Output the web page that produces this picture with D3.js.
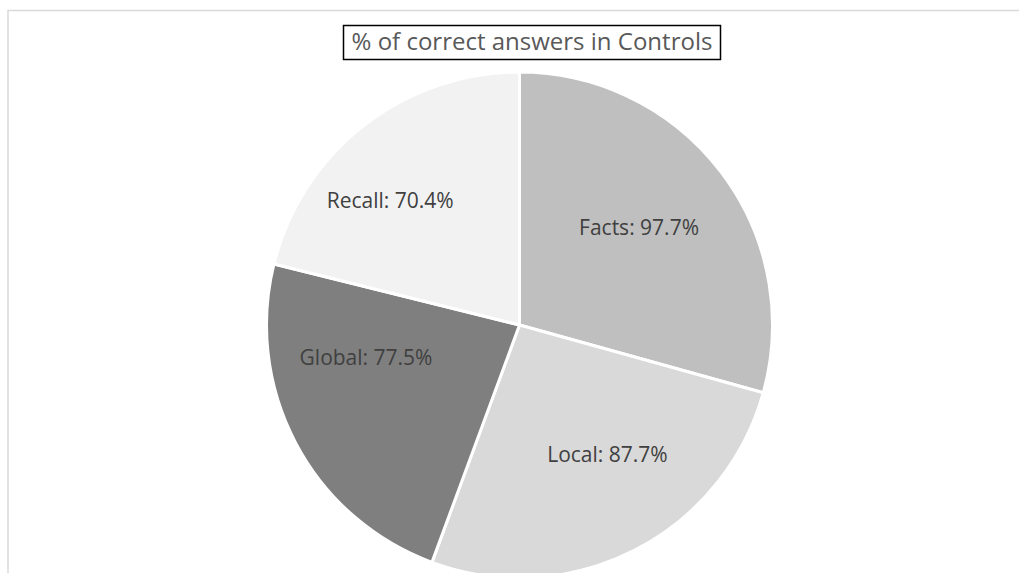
<!DOCTYPE html>
<html>
<head>
<meta charset="utf-8">
<script src="https://cdn.jsdelivr.net/npm/d3@7"></script>
<style>
  body { margin: 0; background: #fff; }
  text { font-family: "Open Sans", "Noto Sans", sans-serif; }
</style>
</head>
<body>
<script>
// data
var categories = ["Facts", "Local", "Global", "Recall"];
var values = [97.7, 87.7, 77.5, 70.4];
var colors = ["#bfbfbf", "#d9d9d9", "#7f7f7f", "#f2f2f2"];
var title = "% of correct answers in Controls";

var width = 1019;
var height = 573;

var svg = d3.select("body").append("svg")
  .attr("width", width)
  .attr("height", height);

// chart frame (only top and left edges are visible)
svg.append("path")
  .attr("d", "M8,573 L8,10.5 L1019,10.5")
  .attr("fill", "none")
  .attr("stroke", "#d9d9d9")
  .attr("stroke-width", 1.5);

var cx = 519.5, cy = 325, radius = 253;

var data = categories.map(function(c, i) {
  return {name: c, value: values[i], color: colors[i]};
});

var pie = d3.pie()
  .sort(null)
  .value(function(d) { return d.value; });

var arc = d3.arc()
  .innerRadius(0)
  .outerRadius(radius);

var g = svg.append("g")
  .attr("transform", "translate(" + cx + "," + cy + ")");

g.selectAll(".slice")
  .data(pie(data))
  .enter()
  .append("path")
  .attr("class", "slice")
  .attr("d", arc)
  .attr("fill", function(d) { return d.data.color; })
  .attr("stroke", "#fff")
  .attr("stroke-width", 3)
  .attr("stroke-linejoin", "round");

// excel moved the labels a bit off the slice middle (degrees, radius factor)
var labelTweak = {
  Facts: [-2, 0.61],
  Local: [-7, 0.62],
  Global: [16, 0.62],
  Recall: [-8, 0.71]
};

function labelPos(d) {
  var tw = labelTweak[d.data.name];
  var a = (d.startAngle + d.endAngle) / 2 + tw[0] * Math.PI / 180;
  var r = radius * tw[1];
  return [Math.sin(a) * r, -Math.cos(a) * r];
}

g.selectAll(".label")
  .data(pie(data))
  .enter()
  .append("text")
  .attr("class", "label")
  .attr("transform", function(d) { return "translate(" + labelPos(d) + ")"; })
  .attr("text-anchor", "middle")
  .attr("dy", "0.35em")
  .attr("fill", "#404040")
  .style("font-size", "21px")
  .text(function(d) { return d.data.name + ": " + d.data.value.toFixed(1) + "%"; });

// title box, then title
svg.append("rect")
  .attr("x", 343.5)
  .attr("y", 25.5)
  .attr("width", 377)
  .attr("height", 34)
  .attr("fill", "#fff")
  .attr("stroke", "#000")
  .attr("stroke-width", 1.5);

svg.append("text")
  .attr("x", 532)
  .attr("y", 42)
  .attr("text-anchor", "middle")
  .attr("dy", "0.35em")
  .attr("fill", "#595959")
  .style("font-size", "24px")
  .text(title);
</script>
</body>
</html>
